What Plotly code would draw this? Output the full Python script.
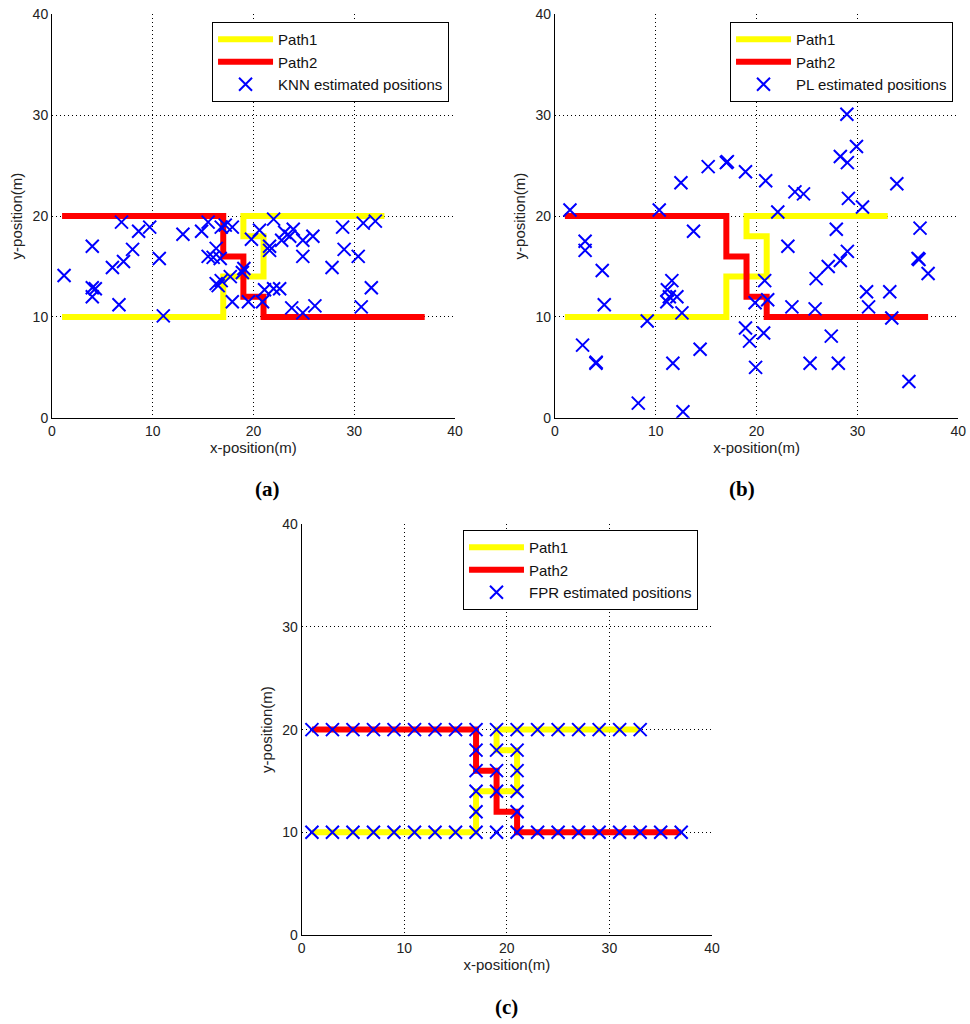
import plotly.graph_objects as go

# paths (same in all three panels)
path1_x = [1, 17, 17, 21, 21, 19, 19, 33]
path1_y = [10, 10, 14, 14, 18, 18, 20, 20]
path2_x = [1, 17, 17, 19, 19, 21, 21, 37]
path2_y = [20, 20, 16, 16, 12, 12, 10, 10]

# (a) KNN estimates
knn_x = [1.2, 4.0, 4.0, 4.0, 4.3, 6.65, 6.9, 6.0, 7.1, 8.0, 8.6, 9.7, 10.65, 11.05,
         13.0, 14.85, 15.5, 15.5, 16.3, 16.7, 16.0, 16.5, 16.8, 16.3, 16.8, 17.9,
         17.7, 17.9, 19.05, 18.9, 19.5, 19.8, 20.6, 20.9, 21.1, 21.6, 21.6, 22.0,
         22.0, 22.6, 22.8, 23.1, 23.95, 23.8, 24.9, 24.9, 24.9, 25.9, 26.1, 27.8,
         28.85, 29.0, 30.4, 30.7, 30.9, 32.1, 31.7, 17.2, 23.6]
knn_y = [14.1, 17.0, 12.9, 12.0, 12.8, 11.2, 19.4, 14.9, 15.5, 16.7, 18.5, 18.9, 15.8, 10.1,
         18.2, 18.5, 19.4, 16.0, 16.8, 15.8, 15.9, 13.1, 13.6, 13.3, 18.9, 18.9,
         14.0, 11.5, 14.8, 14.4, 11.5, 17.7, 18.6, 11.5, 12.7, 17.0, 16.6, 19.7,
         12.8, 12.8, 17.6, 18.4, 18.7, 10.9, 17.6, 10.4, 16.0, 18.0, 11.1, 14.9,
         18.9, 16.7, 16.0, 11.0, 19.3, 19.5, 12.9, 19.1, 18.0]

# (b) PL estimates
pl_x = [1.5, 3.0, 3.0, 4.7, 10.35, 12.5, 13.75, 15.2, 17.0, 17.1, 18.9, 20.9, 22.1,
        23.1, 23.8, 24.65, 27.9, 28.3, 29.0, 28.95, 29.9, 29.1, 30.5, 29.0, 28.3,
        33.9, 36.2, 36.0, 27.1, 4.9, 2.75, 4.07, 4.1, 8.27, 9.16, 11.6, 11.15, 11.35,
        11.1, 12.1, 12.6, 11.7, 12.7, 14.4, 18.9, 19.3, 19.9, 19.85, 20.7, 20.8, 21.1,
        23.5, 25.3, 25.8, 25.9, 27.4, 28.1, 30.9, 31.1, 33.2, 33.4, 35.1, 36.1, 37.0]
pl_y = [20.6, 17.5, 16.6, 14.6, 20.6, 23.3, 18.5, 24.9, 25.3, 25.4, 24.4, 23.5, 20.4,
        17.0, 22.4, 22.2, 18.7, 25.9, 25.3, 30.1, 26.9, 21.75, 20.9, 16.5, 15.6,
        23.2, 18.8, 15.8, 15.0, 11.2, 7.2, 5.4, 5.5, 1.45, 9.6, 13.6, 12.7, 12.0,
        11.5, 12.0, 10.4, 5.4, 0.6, 6.8, 8.9, 7.6, 5.0, 11.4, 8.4, 13.6, 11.7,
        11.0, 5.4, 10.8, 13.8, 8.1, 5.4, 12.5, 11.0, 12.5, 9.9, 3.6, 15.7, 14.3]

# (c) FPR estimates
fpr_x = [1, 3, 5, 7, 9, 11, 13, 15, 17, 19, 21, 23, 25, 27, 29, 31, 33,
         17, 19, 21, 17, 19, 21, 17, 19, 21, 17, 21,
         1, 3, 5, 7, 9, 11, 13, 15, 17, 19, 21, 23, 25, 27, 29, 31, 33, 35, 37]
fpr_y = [20, 20, 20, 20, 20, 20, 20, 20, 20, 20, 20, 20, 20, 20, 20, 20, 20,
         18, 18, 18, 16, 16, 16, 14, 14, 14, 12, 12,
         10, 10, 10, 10, 10, 10, 10, 10, 10, 10, 10, 10, 10, 10, 10, 10, 10, 10, 10]

panels = [
    ("", "KNN estimated positions", knn_x, knn_y, [0.0536, 0.469], [0.592, 0.986], "(a)"),
    ("2", "PL estimated positions", pl_x, pl_y, [0.572, 0.988], [0.592, 0.986], "(b)"),
    ("3", "FPR estimated positions", fpr_x, fpr_y, [0.311, 0.734], [0.087, 0.488], "(c)"),
]
legend_pos = {"": (0.2186, 0.9785), "2": (0.7526, 0.9785), "3": (0.4773, 0.4824)}

fig = go.Figure()
tick_font = dict(family="Liberation Sans, Arial", size=14, color="#222")
title_font = dict(family="Liberation Sans, Arial", size=15, color="#222")

for n, est_name, ex, ey, xdom, ydom, tag in panels:
    leg = "legend" + n
    fig.add_trace(go.Scatter(x=path1_x, y=path1_y, mode="lines", name="Path1",
                             line=dict(color="#ffff00", width=6),
                             xaxis="x" + n, yaxis="y" + n, legend=leg))
    fig.add_trace(go.Scatter(x=path2_x, y=path2_y, mode="lines", name="Path2",
                             line=dict(color="#ff0000", width=6),
                             xaxis="x" + n, yaxis="y" + n, legend=leg))
    fig.add_trace(go.Scatter(x=ex, y=ey, mode="markers", name=est_name,
                             marker=dict(symbol="x-thin", size=13, color="#0000ff",
                                         line=dict(width=2, color="#0000ff")),
                             xaxis="x" + n, yaxis="y" + n, legend=leg))
    ax = dict(range=[0, 40], tickvals=[0, 10, 20, 30, 40], showgrid=True,
              gridcolor="#000", gridwidth=1, griddash="1px,3px", zeroline=False,
              showline=True, linecolor="#000", linewidth=1, ticks="",
              tickfont=tick_font, automargin=False)
    fig.update_layout({
        "xaxis" + n: dict(ax, domain=xdom, anchor="y" + n,
                          title=dict(text="x-position(m)", font=title_font, standoff=2)),
        "yaxis" + n: dict(ax, domain=ydom, anchor="x" + n,
                          title=dict(text="y-position(m)", font=title_font, standoff=6)),
        leg: dict(x=legend_pos[n][0], y=legend_pos[n][1], xanchor="left", yanchor="top",
                  bgcolor="white", bordercolor="#000", borderwidth=1,
                  font=dict(family="Liberation Sans, Arial", size=15, color="#111"),
                  tracegroupgap=0, itemwidth=55),
    })
    fig.add_annotation(text="<b>" + tag + "</b>", xref="paper", yref="paper",
                       x=(xdom[0] + xdom[1]) / 2, y=ydom[0] - 0.07,
                       showarrow=False, yanchor="middle",
                       font=dict(family="Liberation Serif, serif", size=21, color="#000"))

fig.update_layout(width=970, height=1024, margin=dict(l=0, r=0, t=0, b=0),
                  paper_bgcolor="white", plot_bgcolor="white")
# drop the browser's default body margin so the figure sits at the page corner
fig.write_html("out.html", config={"displayModeBar": False},
               post_script="document.body.style.margin='0';")
